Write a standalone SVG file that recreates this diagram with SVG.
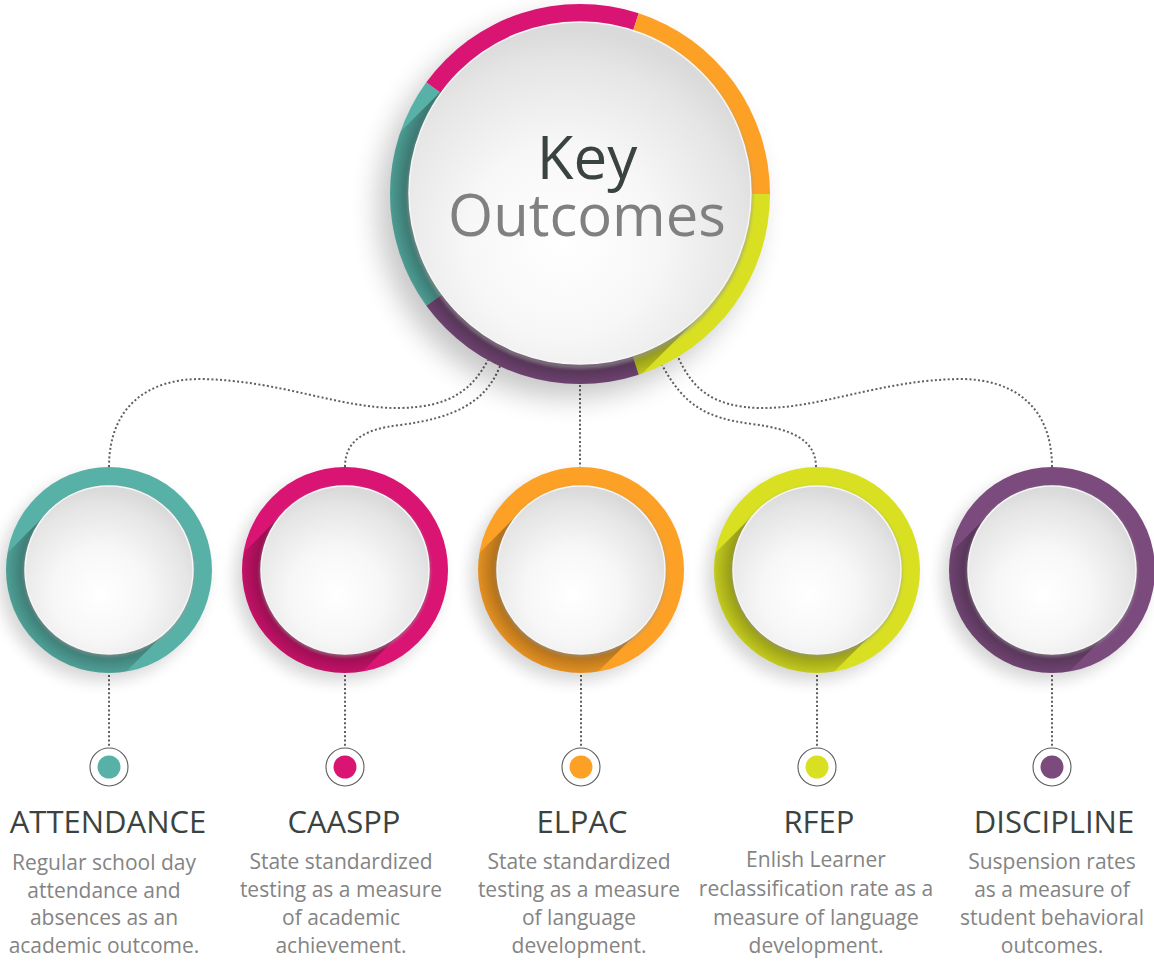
<svg xmlns="http://www.w3.org/2000/svg" width="1154" height="963" viewBox="0 0 1154 963">
<defs>
<style>
.dot{fill:none;stroke:#5f5f5f;stroke-width:2;stroke-dasharray:2 2.3;}
.disc{stroke:#f6f6f6;stroke-width:1.5;}
.rim{fill:#9a9a9a;opacity:.55;}
.title{font-family:"Open Sans","Liberation Sans",sans-serif;font-size:31px;fill:#3b4341;text-anchor:middle;}
.desc{font-family:"Open Sans","Liberation Sans",sans-serif;font-size:21px;fill:#848484;text-anchor:middle;}
.mk{fill:#fff;stroke:#5a5a5a;stroke-width:1.1;}
</style>
<radialGradient id="discG" cx="0.45" cy="0.64" r="0.62">
<stop offset="0" stop-color="#ffffff"/>
<stop offset="0.45" stop-color="#f7f7f7"/>
<stop offset="0.85" stop-color="#e5e5e5"/>
<stop offset="1" stop-color="#dadada"/>
</radialGradient>
<radialGradient id="lsS" gradientUnits="userSpaceOnUse" cx="0" cy="0" r="103">
<stop offset="0.8" stop-color="#000" stop-opacity="0.34"/>
<stop offset="1" stop-color="#000" stop-opacity="0.1"/>
</radialGradient>
<radialGradient id="lsB" gradientUnits="userSpaceOnUse" cx="0" cy="0" r="190">
<stop offset="0.89" stop-color="#000" stop-opacity="0.38"/>
<stop offset="1" stop-color="#000" stop-opacity="0.12"/>
</radialGradient>
<clipPath id="clipS"><circle r="103"/></clipPath>
<clipPath id="clipB"><circle r="190"/></clipPath>
<filter id="blur8" x="-50%" y="-50%" width="200%" height="200%"><feGaussianBlur stdDeviation="8"/></filter>
<filter id="blur14" x="-50%" y="-50%" width="200%" height="200%"><feGaussianBlur stdDeviation="14"/></filter>
<filter id="blur2" x="-20%" y="-20%" width="140%" height="140%"><feGaussianBlur stdDeviation="1.5"/></filter>
</defs>
<rect width="1154" height="963" fill="#ffffff"/>

<g id="connectors">
<path class="dot" d="M109 467 C109 405 150 379 200 379 C280 380 340 409 400 408 C450 407 472 390 488 360"/>
<path class="dot" d="M345 467 C345 440 365 429 400 425 C455 418 486 402 500 366"/>
<path class="dot" d="M580 385 L580 467"/>
<path class="dot" d="M816 467 C816 440 792 429 752 424 C705 418 684 405 662 365"/>
<path class="dot" d="M1052 467 C1052 405 1012 379 960 379 C880 380 820 409 760 408 C712 407 692 388 678 357"/>
<path class="dot" d="M109 675 L109 748"/>
<path class="dot" d="M345 675 L345 748"/>
<path class="dot" d="M581 675 L581 748"/>
<path class="dot" d="M817 675 L817 748"/>
<path class="dot" d="M1052 675 L1052 748"/>
</g>

<g id="node-key">
<g transform="translate(580,194)">
<circle r="190" fill="#000" opacity="0.22" transform="translate(-12,14)" filter="url(#blur14)"/>
<path d="M0 0 L190 0 A190 190 0 0 1 58.7 180.7 Z" fill="#d8e021"/>
<path d="M0 0 L58.7 180.7 A190 190 0 0 1 -153.7 111.7 Z" fill="#7b4b7d"/>
<path d="M0 0 L-153.7 111.7 A190 190 0 0 1 -153.7 -111.7 Z" fill="#57b1a7"/>
<path d="M0 0 L-153.7 -111.7 A190 190 0 0 1 58.7 -180.7 Z" fill="#d91473"/>
<path d="M0 0 L58.7 -180.7 A190 190 0 0 1 190 0 Z" fill="#fca026"/>
<path d="M120.9 120.9 A171 171 0 0 1 -120.9 -120.9 L-260.9 19.1 L-19.1 260.9 Z" fill="url(#lsB)" clip-path="url(#clipB)"/>
<circle r="173" class="rim" transform="translate(0,2)" filter="url(#blur2)"/>
<circle r="171" cy="-1" class="disc" fill="url(#discG)"/>
<text x="7" y="-15" font-family="'Open Sans','Liberation Sans',sans-serif" font-size="60" fill="#3b4341" text-anchor="middle">Key</text>
<text x="7" y="42" font-family="'Open Sans','Liberation Sans',sans-serif" font-size="58" fill="#808080" text-anchor="middle">Outcomes</text>
</g>
</g>

<g id="node-attendance">
<g transform="translate(109,570)">
<circle r="103" fill="#000" opacity="0.16" transform="translate(-7,8)" filter="url(#blur8)"/>
<circle r="103" fill="#57b1a7"/>
<path d="M59.4 59.4 A84 84 0 0 1 -59.4 -59.4 L-159.4 40.6 L-40.6 159.4 Z" fill="url(#lsS)" clip-path="url(#clipS)"/>
<circle r="85.5" class="rim" transform="translate(0,1.5)" filter="url(#blur2)"/>
<circle r="84" class="disc" fill="url(#discG)"/>
</g>
<circle cx="109" cy="767" r="19" class="mk"/>
<circle cx="109" cy="767" r="11.5" fill="#57b1a7"/>
<text class="title" x="108" y="833">ATTENDANCE</text>
<text class="desc"><tspan x="104" y="870">Regular school day</tspan><tspan x="104" y="898">attendance and</tspan><tspan x="104" y="925">absences as an</tspan><tspan x="104" y="953">academic outcome.</tspan></text>
</g>

<g id="node-caaspp">
<g transform="translate(345,570)">
<circle r="103" fill="#000" opacity="0.16" transform="translate(-7,8)" filter="url(#blur8)"/>
<circle r="103" fill="#d91473"/>
<path d="M59.4 59.4 A84 84 0 0 1 -59.4 -59.4 L-159.4 40.6 L-40.6 159.4 Z" fill="url(#lsS)" clip-path="url(#clipS)"/>
<circle r="85.5" class="rim" transform="translate(0,1.5)" filter="url(#blur2)"/>
<circle r="84" class="disc" fill="url(#discG)"/>
</g>
<circle cx="345" cy="767" r="19" class="mk"/>
<circle cx="345" cy="767" r="11.5" fill="#d91473"/>
<text class="title" x="344" y="833">CAASPP</text>
<text class="desc"><tspan x="341" y="869">State standardized</tspan><tspan x="341" y="897">testing as a measure</tspan><tspan x="341" y="925">of academic</tspan><tspan x="341" y="953">achievement.</tspan></text>
</g>

<g id="node-elpac">
<g transform="translate(581,570)">
<circle r="103" fill="#000" opacity="0.16" transform="translate(-7,8)" filter="url(#blur8)"/>
<circle r="103" fill="#fca026"/>
<path d="M59.4 59.4 A84 84 0 0 1 -59.4 -59.4 L-159.4 40.6 L-40.6 159.4 Z" fill="url(#lsS)" clip-path="url(#clipS)"/>
<circle r="85.5" class="rim" transform="translate(0,1.5)" filter="url(#blur2)"/>
<circle r="84" class="disc" fill="url(#discG)"/>
</g>
<circle cx="581" cy="767" r="19" class="mk"/>
<circle cx="581" cy="767" r="11.5" fill="#fca026"/>
<text class="title" x="582" y="833">ELPAC</text>
<text class="desc"><tspan x="579" y="869">State standardized</tspan><tspan x="579" y="897">testing as a measure</tspan><tspan x="579" y="925">of language</tspan><tspan x="579" y="953">development.</tspan></text>
</g>

<g id="node-rfep">
<g transform="translate(817,570)">
<circle r="103" fill="#000" opacity="0.16" transform="translate(-7,8)" filter="url(#blur8)"/>
<circle r="103" fill="#d8e021"/>
<path d="M59.4 59.4 A84 84 0 0 1 -59.4 -59.4 L-159.4 40.6 L-40.6 159.4 Z" fill="url(#lsS)" clip-path="url(#clipS)"/>
<circle r="85.5" class="rim" transform="translate(0,1.5)" filter="url(#blur2)"/>
<circle r="84" class="disc" fill="url(#discG)"/>
</g>
<circle cx="817" cy="767" r="19" class="mk"/>
<circle cx="817" cy="767" r="11.5" fill="#d8e021"/>
<text class="title" x="819" y="833">RFEP</text>
<text class="desc"><tspan x="816" y="867">Enlish Learner</tspan><tspan x="816" y="896">reclassification rate as a</tspan><tspan x="816" y="925">measure of language</tspan><tspan x="816" y="953">development.</tspan></text>
</g>

<g id="node-discipline">
<g transform="translate(1052,570)">
<circle r="103" fill="#000" opacity="0.16" transform="translate(-7,8)" filter="url(#blur8)"/>
<circle r="103" fill="#7b4b7d"/>
<path d="M59.4 59.4 A84 84 0 0 1 -59.4 -59.4 L-159.4 40.6 L-40.6 159.4 Z" fill="url(#lsS)" clip-path="url(#clipS)"/>
<circle r="85.5" class="rim" transform="translate(0,1.5)" filter="url(#blur2)"/>
<circle r="84" class="disc" fill="url(#discG)"/>
</g>
<circle cx="1052" cy="767" r="19" class="mk"/>
<circle cx="1052" cy="767" r="11.5" fill="#7b4b7d"/>
<text class="title" x="1054" y="833">DISCIPLINE</text>
<text class="desc"><tspan x="1052" y="869">Suspension rates</tspan><tspan x="1052" y="897">as a measure of</tspan><tspan x="1052" y="925">student behavioral</tspan><tspan x="1052" y="953">outcomes.</tspan></text>
</g>
</svg>
